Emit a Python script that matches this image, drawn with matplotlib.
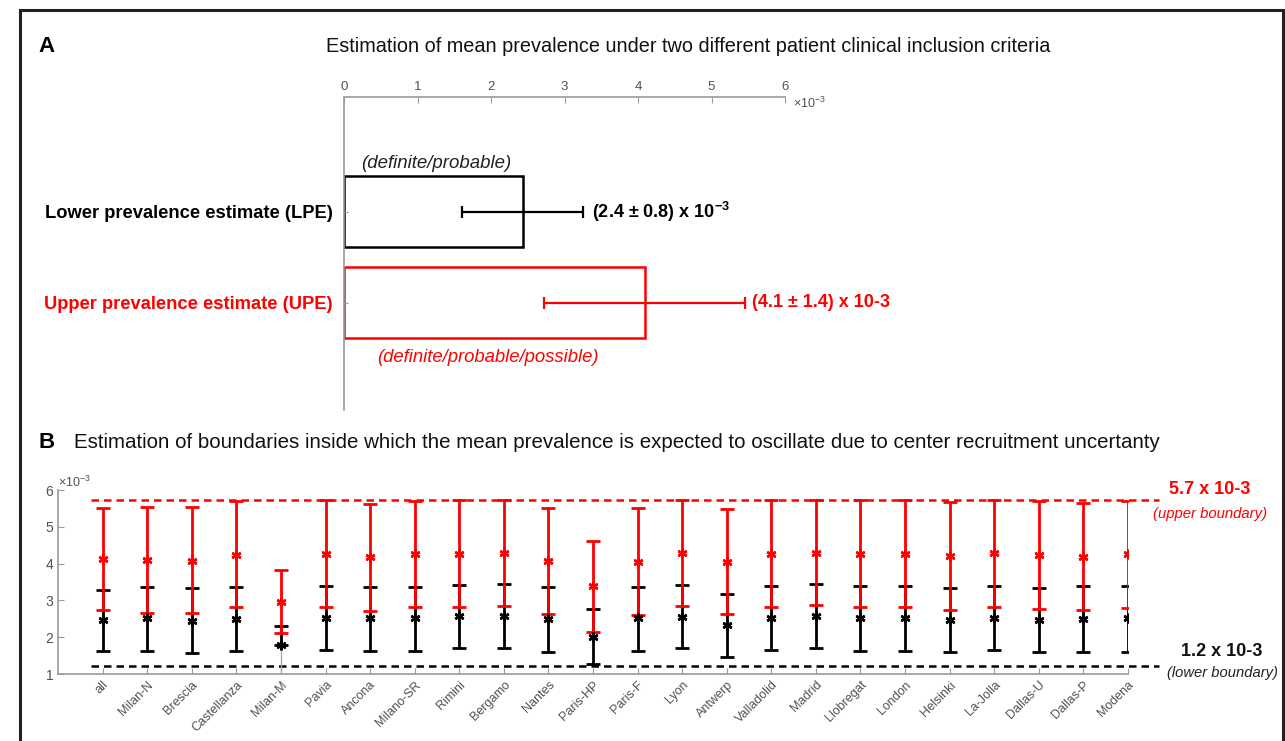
import numpy as np
import matplotlib.pyplot as plt
from matplotlib.patches import Rectangle

# panel A
est_labels = ['Lower prevalence estimate (LPE)', 'Upper prevalence estimate (UPE)']
est_mean = [2.43, 4.09]
est_err = [0.82, 1.37]
est_colors = ['black', 'red']

# panel B (x 10^-3)
centers = ['all', 'Milan-N', 'Brescia', 'Castellanza', 'Milan-M', 'Pavia', 'Ancona',
           'Milano-SR', 'Rimini', 'Bergamo', 'Nantes', 'Paris-HP', 'Paris-F', 'Lyon',
           'Antwerp', 'Valladolid', 'Madrid', 'Llobregat', 'London', 'Helsinki',
           'La-Jolla', 'Dallas-U', 'Dallas-P', 'Modena']
lpe_low = [1.63, 1.63, 1.58, 1.63, 1.79, 1.65, 1.63, 1.63, 1.70, 1.72, 1.61, 1.26,
           1.63, 1.70, 1.45, 1.66, 1.70, 1.63, 1.63, 1.59, 1.65, 1.59, 1.61, 1.61]
lpe_mid = [2.47, 2.51, 2.45, 2.49, 1.79, 2.51, 2.51, 2.51, 2.58, 2.58, 2.49, 2.01,
           2.51, 2.56, 2.33, 2.53, 2.58, 2.51, 2.51, 2.46, 2.53, 2.46, 2.49, 2.51]
lpe_high = [3.28, 3.37, 3.33, 3.36, 2.30, 3.39, 3.37, 3.37, 3.42, 3.45, 3.36, 2.77,
            3.37, 3.42, 3.17, 3.39, 3.44, 3.38, 3.38, 3.34, 3.40, 3.35, 3.38, 3.38]
upe_low = [2.74, 2.67, 2.65, 2.81, 2.11, 2.81, 2.72, 2.81, 2.83, 2.85, 2.62, 2.15,
           2.60, 2.86, 2.62, 2.81, 2.88, 2.83, 2.82, 2.75, 2.83, 2.77, 2.74, 2.80]
upe_mid = [4.12, 4.10, 4.08, 4.23, 2.97, 4.26, 4.19, 4.25, 4.26, 4.28, 4.07, 3.39,
           4.05, 4.30, 4.05, 4.26, 4.30, 4.27, 4.27, 4.20, 4.30, 4.23, 4.18, 4.25]
upe_high = [5.50, 5.55, 5.53, 5.70, 3.83, 5.73, 5.61, 5.70, 5.73, 5.73, 5.50, 4.62,
            5.50, 5.73, 5.48, 5.73, 5.73, 5.72, 5.72, 5.67, 5.72, 5.70, 5.65, 5.70]
upper_bound = 5.73
lower_bound = 1.22

plt.rcParams['font.family'] = ['Liberation Sans', 'DejaVu Sans']
plt.rcParams['mathtext.fontset'] = 'custom'
plt.rcParams['mathtext.rm'] = 'Liberation Sans'
plt.rcParams['mathtext.bf'] = 'Liberation Sans:bold'
axcol = '#9a9a9a'
tickcol = '#505050'

fig = plt.figure(figsize=(12.85, 7.41), dpi=100)
renderer = fig.canvas.get_renderer()


def fit(t, width_px):
    # scale a text so that it spans width_px pixels like the reference
    w = t.get_window_extent(renderer).width
    t.set_fontsize(t.get_fontsize() * width_px / w)


def fx(px):
    return px / 1285


def fy(py):
    return 1 - py / 741


fig.patches.append(Rectangle((fx(20), -0.01), fx(1263), fy(10) + 0.01,
                             transform=fig.transFigure, fill=False, ec='#222222', lw=2.2))

fig.text(fx(38), fy(46), 'A', fontsize=16, fontweight='bold', va='center')
tA = fig.text(fx(688), fy(46),
              'Estimation of mean prevalence under two different patient clinical inclusion criteria',
              fontsize=15, ha='center', va='center', color='#111111')
fit(tA, 724)

# ---- panel A
axA = fig.add_axes([fx(344), fy(410), fx(441), 313 / 741])
pos = np.arange(1, len(est_mean) + 1)
axA.barh(pos, est_mean, height=0.78, fill=False, edgecolor=est_colors, linewidth=1.8)
for p, m, e, c in zip(pos, est_mean, est_err, est_colors):
    axA.errorbar(m, p, xerr=e, fmt='none', ecolor=c, elinewidth=1.6, capsize=4, capthick=1.6)
axA.set_xlim(0, 6)
axA.set_ylim(3.18, -0.26)
axA.xaxis.tick_top()
axA.set_xticks(range(7))
axA.tick_params(axis='x', direction='in', length=4, color=axcol, labelcolor=tickcol,
                labelsize=9.5, pad=3)
axA.set_yticks(pos)
axA.set_yticklabels(est_labels, fontsize=13.2, fontweight='bold')
for lab, c in zip(axA.get_yticklabels(), est_colors):
    lab.set_color(c)
axA.tick_params(axis='y', direction='in', length=3, color=axcol, pad=8)
for s in ['bottom', 'right']:
    axA.spines[s].set_visible(False)
for s in ['top', 'left']:
    axA.spines[s].set_color(axcol)
    axA.spines[s].set_linewidth(1.2)
fig.text(fx(793), fy(103), r'$\times10^{-3}$', fontsize=9, color=tickcol, va='center')

axA.text(1.25, 0.47, '(definite/probable)', fontsize=13.4, style='italic', color='#222222',
         ha='center', va='center')
axA.text(3.38, 1, '(2.4 \u00b1 0.8) x 10$^{\\mathbf{-3}}$', fontsize=13, fontweight='bold',
         ha='left', va='center')
axA.text(5.55, 2, '(4.1 \u00b1 1.4) x 10-3', fontsize=13, fontweight='bold', color='red',
         ha='left', va='center')
axA.text(1.96, 2.6, '(definite/probable/possible)', fontsize=13.3, style='italic', color='red',
         ha='center', va='center')

# ---- panel B
fig.text(fx(38), fy(442), 'B', fontsize=16, fontweight='bold', va='center')
tB = fig.text(fx(74), fy(442),
              'Estimation of boundaries inside which the mean prevalence is expected to oscillate due to center recruitment uncertanty',
              fontsize=16.5, ha='left', va='center', color='#111111')
fit(tB, 1086)

axB = fig.add_axes([fx(58), fy(674), fx(1070), 184 / 741])
x = np.arange(1, len(centers) + 1)
lpe_mid = np.array(lpe_mid)
upe_mid = np.array(upe_mid)
axB.plot([0.75, 24.7], [upper_bound, upper_bound], '--', color='red', lw=1.8,
         dashes=(3, 2), clip_on=False)
axB.plot([0.75, 24.7], [lower_bound, lower_bound], '--', color='black', lw=1.8,
         dashes=(3, 2), clip_on=False)
axB.plot([5, 5], [1, lpe_mid[4]], color='#aaaaaa', lw=1)
axB.errorbar(x, lpe_mid, yerr=[lpe_mid - np.array(lpe_low), np.array(lpe_high) - lpe_mid],
             fmt='none', ecolor='black', elinewidth=2, capsize=5, capthick=2)
axB.errorbar(x, upe_mid, yerr=[upe_mid - np.array(upe_low), np.array(upe_high) - upe_mid],
             fmt='none', ecolor='red', elinewidth=2, capsize=5, capthick=2)
axB.plot(x, lpe_mid, ls='none', marker=(6, 2, 0), ms=7, mew=1.8, color='black')
axB.plot(x, upe_mid, ls='none', marker=(6, 2, 0), ms=7, mew=1.8, color='red')
axB.set_xlim(0, 24)
axB.set_ylim(1, 6)
axB.set_yticks(range(1, 7))
axB.set_xticks(x)
axB.set_xticklabels(centers, rotation=45, ha='right', rotation_mode='anchor', fontsize=9,
                    color=tickcol)
axB.tick_params(axis='both', direction='in', length=4, color=axcol)
axB.tick_params(axis='y', labelcolor=tickcol, labelsize=10)
for s in ['top', 'right']:
    axB.spines[s].set_visible(False)
for s in ['bottom', 'left']:
    axB.spines[s].set_color(axcol)
    axB.spines[s].set_linewidth(1.2)
fig.text(fx(58), fy(482), r'$\times10^{-3}$', fontsize=9, color=tickcol, va='center')

fig.text(fx(1210), fy(490), '5.7 x 10-3', fontsize=13, fontweight='bold',
         color='red', ha='center', va='center')
tu = fig.text(fx(1210), fy(514), '(upper boundary)', style='italic',
              fontsize=12, color='red', ha='center', va='center')
fit(tu, 114)
fig.text(fx(1222), fy(652), '1.2 x 10-3', fontsize=13, fontweight='bold',
         color='#111111', ha='center', va='center')
tl = fig.text(fx(1222), fy(673), '(lower boundary)', style='italic',
              fontsize=12, color='#222222', ha='center', va='center')
fit(tl, 110)

fig.savefig('out.png', dpi=100)
